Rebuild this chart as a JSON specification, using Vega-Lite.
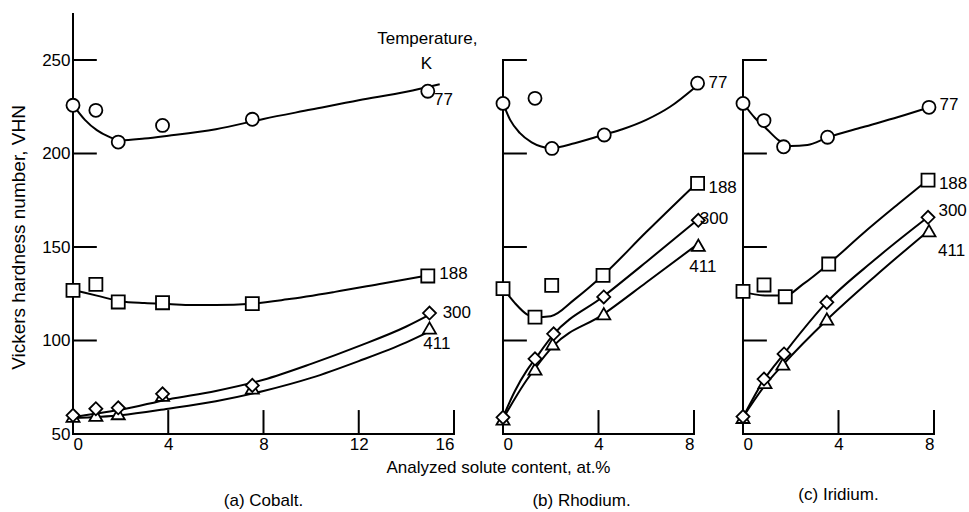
{
  "$schema": "https://vega.github.io/schema/vega-lite/v6.json",
  "background": "white",
  "padding": {"left": 9, "top": 12, "right": 5, "bottom": 5},
  "bounds": "flush",
  "spacing": 49,
  "config": {
    "view": {"stroke": null},
    "font": "Liberation Sans",
    "axis": {
      "grid": false,
      "domain": false,
      "ticks": false,
      "labelColor": "black",
      "labelFont": "Liberation Sans",
      "labelFontSize": 17,
      "titleColor": "black",
      "titleFont": "Liberation Sans",
      "titleFontSize": 17,
      "titleFontWeight": "normal"
    },
    "title": {"font": "Liberation Sans", "fontSize": 17, "fontWeight": "normal", "color": "black"}
  },
  "datasets": {
    "pts": [
      {"p": "a", "t": "77", "x": 0, "v": 225.8}, {"p": "a", "t": "77", "x": 0.96, "v": 223.1}, {"p": "a", "t": "77", "x": 1.9, "v": 206.1}, {"p": "a", "t": "77", "x": 3.76, "v": 215}, {"p": "a", "t": "77", "x": 7.53, "v": 218.3}, {"p": "a", "t": "77", "x": 14.9, "v": 233.3},
      {"p": "a", "t": "188", "x": 0, "v": 126.8}, {"p": "a", "t": "188", "x": 0.96, "v": 130}, {"p": "a", "t": "188", "x": 1.9, "v": 120.6}, {"p": "a", "t": "188", "x": 3.76, "v": 120.2}, {"p": "a", "t": "188", "x": 7.53, "v": 119.7}, {"p": "a", "t": "188", "x": 14.9, "v": 134.5},
      {"p": "a", "t": "411", "x": 0, "v": 59.5}, {"p": "a", "t": "411", "x": 0.96, "v": 60}, {"p": "a", "t": "411", "x": 1.9, "v": 60.9}, {"p": "a", "t": "411", "x": 3.76, "v": 70.7}, {"p": "a", "t": "411", "x": 7.53, "v": 74.6}, {"p": "a", "t": "411", "x": 14.97, "v": 106.7},
      {"p": "a", "t": "300", "x": 0, "v": 60}, {"p": "a", "t": "300", "x": 0.96, "v": 63.5}, {"p": "a", "t": "300", "x": 1.9, "v": 64}, {"p": "a", "t": "300", "x": 3.76, "v": 71.5}, {"p": "a", "t": "300", "x": 7.53, "v": 76}, {"p": "a", "t": "300", "x": 14.97, "v": 114.7},
      {"p": "b", "t": "77", "x": 0, "v": 226.8}, {"p": "b", "t": "77", "x": 1.34, "v": 229.5}, {"p": "b", "t": "77", "x": 2.05, "v": 202.7}, {"p": "b", "t": "77", "x": 4.24, "v": 209.9}, {"p": "b", "t": "77", "x": 8.15, "v": 237.6},
      {"p": "b", "t": "188", "x": 0, "v": 127.7}, {"p": "b", "t": "188", "x": 1.34, "v": 112.5}, {"p": "b", "t": "188", "x": 2.04, "v": 129.5}, {"p": "b", "t": "188", "x": 4.19, "v": 134.8}, {"p": "b", "t": "188", "x": 8.15, "v": 184},
      {"p": "b", "t": "411", "x": 0, "v": 58}, {"p": "b", "t": "411", "x": 1.34, "v": 84.8}, {"p": "b", "t": "411", "x": 2.08, "v": 98.2}, {"p": "b", "t": "411", "x": 4.22, "v": 114.3}, {"p": "b", "t": "411", "x": 8.18, "v": 150.9},
      {"p": "b", "t": "300", "x": 0, "v": 58.9}, {"p": "b", "t": "300", "x": 1.34, "v": 90.2}, {"p": "b", "t": "300", "x": 2.12, "v": 103.6}, {"p": "b", "t": "300", "x": 4.22, "v": 123.3}, {"p": "b", "t": "300", "x": 8.18, "v": 164.3},
      {"p": "c", "t": "77", "x": 0, "v": 226.8}, {"p": "c", "t": "77", "x": 0.88, "v": 217.6}, {"p": "c", "t": "77", "x": 1.7, "v": 203.6}, {"p": "c", "t": "77", "x": 3.54, "v": 208.7}, {"p": "c", "t": "77", "x": 7.79, "v": 224.7},
      {"p": "c", "t": "188", "x": 0, "v": 126.3}, {"p": "c", "t": "188", "x": 0.88, "v": 129.7}, {"p": "c", "t": "188", "x": 1.77, "v": 123.4}, {"p": "c", "t": "188", "x": 3.59, "v": 140.9}, {"p": "c", "t": "188", "x": 7.75, "v": 185.8},
      {"p": "c", "t": "411", "x": 0, "v": 58.9}, {"p": "c", "t": "411", "x": 0.92, "v": 77.6}, {"p": "c", "t": "411", "x": 1.67, "v": 87.4}, {"p": "c", "t": "411", "x": 3.51, "v": 111.5}, {"p": "c", "t": "411", "x": 7.79, "v": 158.7},
      {"p": "c", "t": "300", "x": 0, "v": 59.3}, {"p": "c", "t": "300", "x": 0.88, "v": 79.4}, {"p": "c", "t": "300", "x": 1.72, "v": 92.8}, {"p": "c", "t": "300", "x": 3.51, "v": 120.4}, {"p": "c", "t": "300", "x": 7.75, "v": 165.9}
    ],
    "crv": [
      {"p": "a", "t": "77", "x": 0, "v": 226}, {"p": "a", "t": "77", "x": 0.5, "v": 218}, {"p": "a", "t": "77", "x": 1, "v": 212.5}, {"p": "a", "t": "77", "x": 1.5, "v": 209}, {"p": "a", "t": "77", "x": 2, "v": 207}, {"p": "a", "t": "77", "x": 3, "v": 208}, {"p": "a", "t": "77", "x": 4, "v": 209.5}, {"p": "a", "t": "77", "x": 6, "v": 213}, {"p": "a", "t": "77", "x": 8, "v": 218.5}, {"p": "a", "t": "77", "x": 10, "v": 223.5}, {"p": "a", "t": "77", "x": 12, "v": 228.5}, {"p": "a", "t": "77", "x": 14, "v": 233}, {"p": "a", "t": "77", "x": 15.4, "v": 237},
      {"p": "a", "t": "188", "x": 0, "v": 127}, {"p": "a", "t": "188", "x": 1, "v": 124}, {"p": "a", "t": "188", "x": 2, "v": 121}, {"p": "a", "t": "188", "x": 3, "v": 120}, {"p": "a", "t": "188", "x": 4, "v": 119.5}, {"p": "a", "t": "188", "x": 5, "v": 119}, {"p": "a", "t": "188", "x": 6, "v": 119}, {"p": "a", "t": "188", "x": 7.5, "v": 119.7}, {"p": "a", "t": "188", "x": 9, "v": 122}, {"p": "a", "t": "188", "x": 11, "v": 126}, {"p": "a", "t": "188", "x": 13, "v": 130.5}, {"p": "a", "t": "188", "x": 15, "v": 135},
      {"p": "a", "t": "300", "x": 0, "v": 59}, {"p": "a", "t": "300", "x": 1, "v": 61}, {"p": "a", "t": "300", "x": 2, "v": 63}, {"p": "a", "t": "300", "x": 4, "v": 68.5}, {"p": "a", "t": "300", "x": 6, "v": 73}, {"p": "a", "t": "300", "x": 8, "v": 79}, {"p": "a", "t": "300", "x": 10, "v": 87.5}, {"p": "a", "t": "300", "x": 12, "v": 97}, {"p": "a", "t": "300", "x": 14, "v": 107.5}, {"p": "a", "t": "300", "x": 15, "v": 114},
      {"p": "a", "t": "411", "x": 0, "v": 58.5}, {"p": "a", "t": "411", "x": 2, "v": 60}, {"p": "a", "t": "411", "x": 4, "v": 63.5}, {"p": "a", "t": "411", "x": 6, "v": 67.5}, {"p": "a", "t": "411", "x": 8, "v": 73}, {"p": "a", "t": "411", "x": 10, "v": 80}, {"p": "a", "t": "411", "x": 12, "v": 89}, {"p": "a", "t": "411", "x": 14, "v": 99}, {"p": "a", "t": "411", "x": 15, "v": 105},
      {"p": "b", "t": "77", "x": 0, "v": 227}, {"p": "b", "t": "77", "x": 0.3, "v": 218}, {"p": "b", "t": "77", "x": 0.7, "v": 211}, {"p": "b", "t": "77", "x": 1.2, "v": 206}, {"p": "b", "t": "77", "x": 2, "v": 203}, {"p": "b", "t": "77", "x": 3, "v": 205.5}, {"p": "b", "t": "77", "x": 4.2, "v": 210}, {"p": "b", "t": "77", "x": 5, "v": 213}, {"p": "b", "t": "77", "x": 6, "v": 218}, {"p": "b", "t": "77", "x": 7, "v": 225}, {"p": "b", "t": "77", "x": 8.1, "v": 236},
      {"p": "b", "t": "188", "x": 0, "v": 128}, {"p": "b", "t": "188", "x": 0.5, "v": 120}, {"p": "b", "t": "188", "x": 1, "v": 114}, {"p": "b", "t": "188", "x": 1.34, "v": 112.5}, {"p": "b", "t": "188", "x": 2, "v": 113}, {"p": "b", "t": "188", "x": 3, "v": 122}, {"p": "b", "t": "188", "x": 4.2, "v": 135}, {"p": "b", "t": "188", "x": 6, "v": 158}, {"p": "b", "t": "188", "x": 8.1, "v": 184},
      {"p": "b", "t": "300", "x": 0, "v": 59}, {"p": "b", "t": "300", "x": 0.5, "v": 73}, {"p": "b", "t": "300", "x": 1, "v": 84}, {"p": "b", "t": "300", "x": 1.34, "v": 90}, {"p": "b", "t": "300", "x": 2.1, "v": 103}, {"p": "b", "t": "300", "x": 4.2, "v": 123.5}, {"p": "b", "t": "300", "x": 6, "v": 142}, {"p": "b", "t": "300", "x": 8.1, "v": 164},
      {"p": "b", "t": "411", "x": 0, "v": 58}, {"p": "b", "t": "411", "x": 0.5, "v": 69}, {"p": "b", "t": "411", "x": 1, "v": 79}, {"p": "b", "t": "411", "x": 1.34, "v": 85}, {"p": "b", "t": "411", "x": 2.1, "v": 97}, {"p": "b", "t": "411", "x": 4.2, "v": 114}, {"p": "b", "t": "411", "x": 6, "v": 131}, {"p": "b", "t": "411", "x": 8.1, "v": 151},
      {"p": "c", "t": "77", "x": 0, "v": 227}, {"p": "c", "t": "77", "x": 0.5, "v": 219}, {"p": "c", "t": "77", "x": 1, "v": 213}, {"p": "c", "t": "77", "x": 1.5, "v": 207}, {"p": "c", "t": "77", "x": 2, "v": 204}, {"p": "c", "t": "77", "x": 2.7, "v": 204.5}, {"p": "c", "t": "77", "x": 3.54, "v": 208.5}, {"p": "c", "t": "77", "x": 5, "v": 214}, {"p": "c", "t": "77", "x": 6.5, "v": 219.5}, {"p": "c", "t": "77", "x": 7.75, "v": 224.5},
      {"p": "c", "t": "188", "x": 0, "v": 126}, {"p": "c", "t": "188", "x": 1, "v": 124}, {"p": "c", "t": "188", "x": 1.77, "v": 124}, {"p": "c", "t": "188", "x": 2.5, "v": 130}, {"p": "c", "t": "188", "x": 3.59, "v": 141}, {"p": "c", "t": "188", "x": 5, "v": 157}, {"p": "c", "t": "188", "x": 6.5, "v": 173}, {"p": "c", "t": "188", "x": 7.75, "v": 186},
      {"p": "c", "t": "300", "x": 0, "v": 59}, {"p": "c", "t": "300", "x": 0.88, "v": 79}, {"p": "c", "t": "300", "x": 1.72, "v": 93}, {"p": "c", "t": "300", "x": 3.51, "v": 120.5}, {"p": "c", "t": "300", "x": 5.5, "v": 143}, {"p": "c", "t": "300", "x": 7.75, "v": 166},
      {"p": "c", "t": "411", "x": 0, "v": 59}, {"p": "c", "t": "411", "x": 0.92, "v": 76}, {"p": "c", "t": "411", "x": 1.67, "v": 87}, {"p": "c", "t": "411", "x": 3.51, "v": 111}, {"p": "c", "t": "411", "x": 5.5, "v": 134}, {"p": "c", "t": "411", "x": 7.75, "v": 158.5}
    ],
    "lbl": [
      {"p": "a", "text": "77", "x": 15.56, "v": 228.6},
      {"p": "a", "text": "188", "x": 15.98, "v": 135.6},
      {"p": "a", "text": "300", "x": 16.12, "v": 114.7},
      {"p": "a", "text": "411", "x": 15.28, "v": 98.3},
      {"p": "a", "text": "Temperature,", "x": 14.88, "v": 261.2},
      {"p": "a", "text": "K", "x": 14.84, "v": 247.9},
      {"p": "b", "text": "77", "x": 9.0, "v": 237.6},
      {"p": "b", "text": "188", "x": 9.2, "v": 181.3},
      {"p": "b", "text": "300", "x": 8.84, "v": 165.2},
      {"p": "b", "text": "411", "x": 8.37, "v": 139.3},
      {"p": "c", "text": "77", "x": 8.63, "v": 225.9},
      {"p": "c", "text": "188", "x": 8.8, "v": 183.7},
      {"p": "c", "text": "300", "x": 8.78, "v": 169},
      {"p": "c", "text": "411", "x": 8.74, "v": 147.6}
    ],
    "frame": [
      {"p": "a", "x0": 0, "x1": 16, "v0": 50, "v1": 50},
      {"p": "a", "x0": 0, "x1": 0, "v0": 50, "v1": 274.6},
      {"p": "b", "x0": 0, "x1": 8, "v0": 50, "v1": 50},
      {"p": "b", "x0": 0, "x1": 0, "v0": 50, "v1": 250},
      {"p": "c", "x0": 0, "x1": 8, "v0": 50, "v1": 50},
      {"p": "c", "x0": 0, "x1": 0, "v0": 50, "v1": 250}
    ],
    "xticks": [
      {"p": "a", "x": 4}, {"p": "a", "x": 8}, {"p": "a", "x": 12}, {"p": "a", "x": 16},
      {"p": "b", "x": 4}, {"p": "b", "x": 8},
      {"p": "c", "x": 4}, {"p": "c", "x": 8}
    ],
    "yticks": [
      {"p": "a", "v": 100}, {"p": "a", "v": 150}, {"p": "a", "v": 200}, {"p": "a", "v": 250},
      {"p": "b", "v": 100}, {"p": "b", "v": 150}, {"p": "b", "v": 200}, {"p": "b", "v": 250},
      {"p": "c", "v": 100}, {"p": "c", "v": 150}, {"p": "c", "v": 200}, {"p": "c", "v": 250}
    ]
  },
  "hconcat": [
    {
      "width": 381,
      "height": 420,
      "title": {"text": "(a) Cobalt.", "orient": "bottom", "anchor": "middle", "offset": 18},
      "layer": [
        {
          "data": {"name": "crv"},
          "transform": [{"filter": "datum.p === 'a'"}],
          "mark": {"type": "line", "interpolate": "monotone", "color": "black", "strokeWidth": 2},
          "encoding": {
            "x": {"field": "x", "type": "quantitative", "scale": {"domain": [0, 16], "nice": false},
                  "axis": {"values": [0, 4, 8, 12, 16], "labelPadding": 2, "title": "Analyzed solute content, at.%", "titleX": 425, "titleY": 33, "titleAlign": "center", "titleBaseline": "middle"}},
            "y": {"field": "v", "type": "quantitative", "scale": {"domain": [50, 274.6], "nice": false, "zero": false},
                  "axis": {"values": [50, 100, 150, 200, 250], "labelPadding": 3, "title": "Vickers hardness number, VHN", "titleFontSize": 19, "titlePadding": 13, "titleY": 223}},
            "detail": {"field": "t"}
          }
        },
        {
          "data": {"name": "frame"},
          "transform": [{"filter": "datum.p === 'a'"}],
          "mark": {"type": "rule", "color": "black", "strokeWidth": 2, "strokeCap": "square"},
          "encoding": {"x": {"field": "x0", "type": "quantitative"}, "x2": {"field": "x1"}, "y": {"field": "v0", "type": "quantitative"}, "y2": {"field": "v1"}}
        },
        {
          "data": {"name": "xticks"},
          "transform": [{"filter": "datum.p === 'a'"}],
          "mark": {"type": "rule", "color": "black", "strokeWidth": 2},
          "encoding": {"x": {"field": "x", "type": "quantitative"}, "y": {"datum": 50, "type": "quantitative"}, "y2": {"datum": 62.8}}
        },
        {
          "data": {"name": "yticks"},
          "transform": [{"filter": "datum.p === 'a'"}],
          "mark": {"type": "rule", "color": "black", "strokeWidth": 2},
          "encoding": {"y": {"field": "v", "type": "quantitative"}, "x": {"datum": 0, "type": "quantitative"}, "x2": {"datum": 1.0}}
        },
        {
          "data": {"name": "pts"},
          "transform": [{"filter": "datum.p === 'a'"}],
          "mark": {"type": "point", "filled": true, "fill": "white", "stroke": "black", "strokeWidth": 1.8, "size": 170, "opacity": 1},
          "encoding": {
            "x": {"field": "x", "type": "quantitative"},
            "y": {"field": "v", "type": "quantitative"},
            "shape": {"field": "t", "type": "nominal", "scale": {"domain": ["77", "188", "300", "411"], "range": ["circle", "square", "diamond", "triangle-up"]}, "legend": null}
          }
        },
        {
          "data": {"name": "lbl"},
          "transform": [{"filter": "datum.p === 'a'"}],
          "mark": {"type": "text", "fontSize": 17, "color": "black", "align": "center", "baseline": "middle"},
          "encoding": {
            "x": {"field": "x", "type": "quantitative"},
            "y": {"field": "v", "type": "quantitative"},
            "text": {"field": "text"}
          }
        }
      ]
    },
    {
      "width": 191,
      "height": 420,
      "title": {"text": "(b) Rhodium.", "orient": "bottom", "anchor": "middle", "offset": 41, "dx": -17},
      "layer": [
        {
          "data": {"name": "crv"},
          "transform": [{"filter": "datum.p === 'b'"}],
          "mark": {"type": "line", "interpolate": "monotone", "color": "black", "strokeWidth": 2},
          "encoding": {
            "x": {"field": "x", "type": "quantitative", "scale": {"domain": [0, 8], "nice": false},
                  "axis": {"values": [0, 4, 8], "labelPadding": 2, "title": null}},
            "y": {"field": "v", "type": "quantitative", "scale": {"domain": [50, 274.6], "nice": false, "zero": false}, "axis": null},
            "detail": {"field": "t"}
          }
        },
        {
          "data": {"name": "frame"},
          "transform": [{"filter": "datum.p === 'b'"}],
          "mark": {"type": "rule", "color": "black", "strokeWidth": 2, "strokeCap": "square"},
          "encoding": {"x": {"field": "x0", "type": "quantitative"}, "x2": {"field": "x1"}, "y": {"field": "v0", "type": "quantitative"}, "y2": {"field": "v1"}}
        },
        {
          "data": {"name": "xticks"},
          "transform": [{"filter": "datum.p === 'b'"}],
          "mark": {"type": "rule", "color": "black", "strokeWidth": 2},
          "encoding": {"x": {"field": "x", "type": "quantitative"}, "y": {"datum": 50, "type": "quantitative"}, "y2": {"datum": 62.8}}
        },
        {
          "data": {"name": "yticks"},
          "transform": [{"filter": "datum.p === 'b'"}],
          "mark": {"type": "rule", "color": "black", "strokeWidth": 2},
          "encoding": {"y": {"field": "v", "type": "quantitative"}, "x": {"datum": 0, "type": "quantitative"}, "x2": {"datum": 1.0}}
        },
        {
          "data": {"name": "pts"},
          "transform": [{"filter": "datum.p === 'b'"}],
          "mark": {"type": "point", "filled": true, "fill": "white", "stroke": "black", "strokeWidth": 1.8, "size": 170, "opacity": 1},
          "encoding": {
            "x": {"field": "x", "type": "quantitative"},
            "y": {"field": "v", "type": "quantitative"},
            "shape": {"field": "t", "type": "nominal", "scale": {"domain": ["77", "188", "300", "411"], "range": ["circle", "square", "diamond", "triangle-up"]}, "legend": null}
          }
        },
        {
          "data": {"name": "lbl"},
          "transform": [{"filter": "datum.p === 'b'"}],
          "mark": {"type": "text", "fontSize": 17, "color": "black", "align": "center", "baseline": "middle"},
          "encoding": {
            "x": {"field": "x", "type": "quantitative"},
            "y": {"field": "v", "type": "quantitative"},
            "text": {"field": "text"}
          }
        }
      ]
    },
    {
      "width": 191,
      "height": 420,
      "title": {"text": "(c) Iridium.", "orient": "bottom", "anchor": "middle", "offset": 35},
      "layer": [
        {
          "data": {"name": "crv"},
          "transform": [{"filter": "datum.p === 'c'"}],
          "mark": {"type": "line", "interpolate": "monotone", "color": "black", "strokeWidth": 2},
          "encoding": {
            "x": {"field": "x", "type": "quantitative", "scale": {"domain": [0, 8], "nice": false},
                  "axis": {"values": [0, 4, 8], "labelPadding": 2, "title": null}},
            "y": {"field": "v", "type": "quantitative", "scale": {"domain": [50, 274.6], "nice": false, "zero": false}, "axis": null},
            "detail": {"field": "t"}
          }
        },
        {
          "data": {"name": "frame"},
          "transform": [{"filter": "datum.p === 'c'"}],
          "mark": {"type": "rule", "color": "black", "strokeWidth": 2, "strokeCap": "square"},
          "encoding": {"x": {"field": "x0", "type": "quantitative"}, "x2": {"field": "x1"}, "y": {"field": "v0", "type": "quantitative"}, "y2": {"field": "v1"}}
        },
        {
          "data": {"name": "xticks"},
          "transform": [{"filter": "datum.p === 'c'"}],
          "mark": {"type": "rule", "color": "black", "strokeWidth": 2},
          "encoding": {"x": {"field": "x", "type": "quantitative"}, "y": {"datum": 50, "type": "quantitative"}, "y2": {"datum": 62.8}}
        },
        {
          "data": {"name": "yticks"},
          "transform": [{"filter": "datum.p === 'c'"}],
          "mark": {"type": "rule", "color": "black", "strokeWidth": 2},
          "encoding": {"y": {"field": "v", "type": "quantitative"}, "x": {"datum": 0, "type": "quantitative"}, "x2": {"datum": 1.0}}
        },
        {
          "data": {"name": "pts"},
          "transform": [{"filter": "datum.p === 'c'"}],
          "mark": {"type": "point", "filled": true, "fill": "white", "stroke": "black", "strokeWidth": 1.8, "size": 170, "opacity": 1},
          "encoding": {
            "x": {"field": "x", "type": "quantitative"},
            "y": {"field": "v", "type": "quantitative"},
            "shape": {"field": "t", "type": "nominal", "scale": {"domain": ["77", "188", "300", "411"], "range": ["circle", "square", "diamond", "triangle-up"]}, "legend": null}
          }
        },
        {
          "data": {"name": "lbl"},
          "transform": [{"filter": "datum.p === 'c'"}],
          "mark": {"type": "text", "fontSize": 17, "color": "black", "align": "center", "baseline": "middle"},
          "encoding": {
            "x": {"field": "x", "type": "quantitative"},
            "y": {"field": "v", "type": "quantitative"},
            "text": {"field": "text"}
          }
        }
      ]
    }
  ]
}
